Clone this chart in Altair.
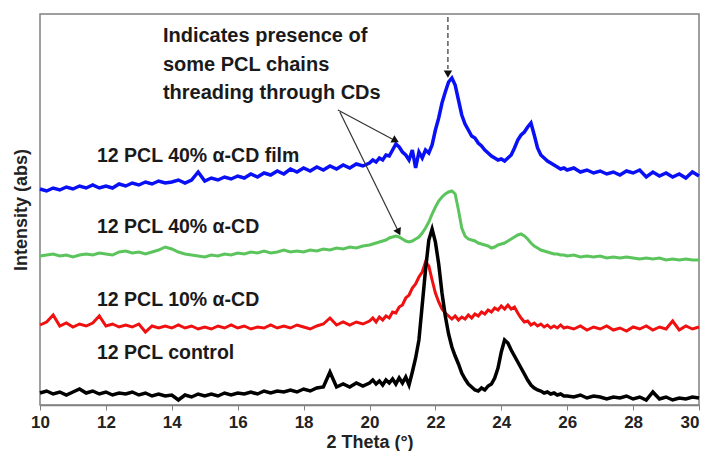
import altair as alt
import pandas as pd

# 2-theta sampling grid (degrees)
two_theta = ([round(10 + 0.2 * i, 1) for i in range(50)]
             + [round(20 + 0.1 * i, 1) for i in range(60)]
             + [round(26 + 0.2 * i, 1) for i in range(21)])

# intensities (arbitrary units, stacked as in the figure)
control = [12, 14, 11, 13, 10, 13, 16, 12, 14, 11, 13, 10, 12, 11, 13, 10, 12, 9, 11, 9,
           10, 5, 10, 8, 11, 9, 11, 9, 12, 10, 12, 11, 13, 11, 14, 12, 14, 13, 15, 13,
           16, 14, 17, 18, 33, 18, 21, 18, 22, 19,
           22, 25, 21, 24, 20, 25, 22, 26, 21, 27, 22, 28, 20, 33, 47, 65, 100, 135, 165, 176,
           163, 141, 112, 89, 71, 58, 49, 41, 32, 26, 21, 18, 15, 14, 17, 15, 19, 21, 27, 37,
           53, 65, 62, 55, 49, 43, 37, 31, 25, 20, 17, 15, 14, 12, 13, 11, 12, 10, 11, 9,
           9, 8, 10, 7, 9, 8, 6, 8, 7, 9, 6, 8, 5, 13, 6, 8, 5, 7, 6, 8, 7]
cd10 = [80, 83, 90, 79, 82, 78, 81, 79, 82, 89, 79, 81, 78, 80, 78, 81, 73, 79, 77, 79,
        77, 80, 77, 79, 76, 78, 76, 79, 77, 80, 77, 79, 76, 78, 77, 80, 77, 79, 77, 80,
        78, 76, 79, 81, 87, 80, 83, 80, 83, 81,
        84, 87, 83, 88, 85, 89, 87, 93, 92, 98, 100, 107, 110, 117, 121, 128, 133, 143, 139, 125,
        112, 103, 96, 92, 89, 86, 89, 85, 88, 86, 90, 87, 91, 89, 93, 91, 95, 93, 97, 95,
        99, 96, 100, 96, 98, 92, 87, 83, 84, 80, 82, 79, 81, 78, 80, 77, 79, 77, 80, 77,
        78, 76, 79, 75, 78, 76, 79, 75, 77, 74, 78, 76, 79, 75, 78, 76, 84, 75, 79, 76, 78]
cd40 = [149, 150, 151, 149, 150, 148, 150, 151, 150, 152, 151, 150, 153, 154, 152, 153, 151, 153, 155, 158,
        156, 153, 151, 150, 149, 148, 150, 149, 151, 150, 152, 151, 153, 152, 154, 152, 153, 155, 153, 154,
        153, 155, 154, 156, 155, 157, 156, 158, 157, 159,
        160, 161, 162, 163, 164, 165, 167, 168, 169, 168, 166, 164, 163, 164, 166, 168, 172, 177, 183, 191,
        198, 204, 208, 211, 213, 214, 211, 195, 177, 169, 166, 165, 164, 162, 161, 160, 159, 157, 158, 160,
        161, 162, 164, 166, 168, 170, 171, 169, 166, 162, 159, 157, 155, 154, 153, 152, 151, 151, 150, 150,
        149, 150, 148, 149, 148, 149, 147, 148, 147, 148, 147, 146, 147, 146, 147, 145, 146, 145, 146, 145, 145]
film = [216, 214, 217, 215, 218, 216, 219, 217, 220, 217, 219, 217, 221, 219, 222, 220, 223, 221, 224, 222,
        223, 225, 222, 225, 233, 224, 227, 225, 228, 226, 229, 227, 231, 228, 232, 230, 234, 231, 236, 233,
        237, 234, 238, 235, 239, 236, 240, 237, 241, 239,
        242, 245, 243, 247, 245, 250, 249, 255, 261, 258, 253, 250, 245, 255, 237, 253, 247, 255, 252, 260,
        275, 287, 302, 313, 323, 327, 320, 305, 290, 281, 275, 269, 267, 262, 259, 255, 252, 249, 247, 245,
        246, 244, 247, 250, 257, 265, 270, 273, 278, 282, 270, 257, 250, 247, 244, 242, 240, 238, 236, 237,
        235, 237, 233, 235, 232, 234, 231, 233, 230, 234, 232, 235, 228, 233, 229, 232, 228, 231, 227, 233, 229]

series_names = ["film", "cd40", "cd10", "control"]
series_values = [film, cd40, cd10, control]
series_colors = ["#0a10f5", "#5cc45c", "#f01010", "#000000"]
series_widths = [3.5, 3, 3, 3.5]

# x tick values
tick_values = [10, 12, 14, 16, 18, 20, 22, 24, 26, 28, 30]

# curve labels
label_text = ["12 PCL 40% α-CD film", "12 PCL 40% α-CD", "12 PCL 10% α-CD", "12 PCL control"]
label_x = [11.73, 11.73, 11.73, 11.73]
label_y = [249, 178, 105, 52]

# annotation text
note_text = ["Indicates presence of", "some PCL chains", "threading through CDs"]
note_x = [13.73, 13.73, 13.73]
note_y = [369, 340, 312]

# arrows (shafts)
arrow_x = [19.04, 19.10]
arrow_y = [295, 293]
arrow_x2 = [20.80, 20.90]
arrow_y2 = [264, 172]
dash_x = [22.38]
dash_y = [388]
dash_y2 = [336]
# arrow heads
head_x = [20.76, 20.87, 22.38]
head_y = [265, 174, 332]
head_angle = [118, 154, 180]

XS = alt.Scale(domain=[10, 30], nice=False, zero=False)
YS = alt.Scale(domain=[0, 391], nice=False, zero=False)

text_font = "Liberation Sans, Arial, sans-serif"

layers = []
for name, vals, col, w in zip(series_names, series_values, series_colors, series_widths):
    df = pd.DataFrame({"theta": two_theta, "intensity": vals})
    enc_x = alt.X("theta:Q", scale=XS,
                  axis=alt.Axis(values=tick_values, title="2 Theta (°)",
                                labelFont=text_font, labelFontSize=17, labelFontWeight="bold",
                                labelColor="#222222", labelPadding=4,
                                labelAlign=alt.ExprRef(expr="datum.value >= 30 ? 'right' : 'center'"),
                                titleFont=text_font, titleFontSize=18, titleFontWeight="bold",
                                titleColor="#222222", titlePadding=3,
                                tickSize=5, tickColor="#808080", domainColor="#808080",
                                domainWidth=1.5, grid=False, labelFlush=False))
    enc_y = alt.Y("intensity:Q", scale=YS,
                  axis=alt.Axis(labels=False, ticks=False, domain=False, grid=False,
                                title="Intensity (abs)", titleFont=text_font,
                                titleFontSize=18, titleFontWeight="bold",
                                titleColor="#222222", titlePadding=10))
    layers.append(alt.Chart(df).mark_line(color=col, strokeWidth=w, interpolate="linear")
                  .encode(x=enc_x, y=enc_y))

lab_df = pd.DataFrame({"x": label_x, "y": label_y, "t": label_text})
layers.append(alt.Chart(lab_df).mark_text(align="left", baseline="middle", font=text_font,
                                          fontSize=19.5, fontWeight="bold", color="#1a1a1a")
              .encode(x=alt.X("x:Q", scale=XS), y=alt.Y("y:Q", scale=YS), text="t:N"))

note_df = pd.DataFrame({"x": note_x, "y": note_y, "t": note_text})
layers.append(alt.Chart(note_df).mark_text(align="left", baseline="middle", font=text_font,
                                           fontSize=20, fontWeight="bold", color="#1a1a1a")
              .encode(x=alt.X("x:Q", scale=XS), y=alt.Y("y:Q", scale=YS), text="t:N"))

arr_df = pd.DataFrame({"x": arrow_x, "y": arrow_y, "x2": arrow_x2, "y2": arrow_y2})
layers.append(alt.Chart(arr_df).mark_rule(color="#333333", strokeWidth=1.2)
              .encode(x=alt.X("x:Q", scale=XS), y=alt.Y("y:Q", scale=YS), x2="x2:Q", y2="y2:Q"))

dash_df = pd.DataFrame({"x": dash_x, "y": dash_y, "y2": dash_y2})
layers.append(alt.Chart(dash_df).mark_rule(color="#333333", strokeWidth=1.2, strokeDash=[5, 3])
              .encode(x=alt.X("x:Q", scale=XS), y=alt.Y("y:Q", scale=YS), y2="y2:Q"))

head_df = pd.DataFrame({"x": head_x, "y": head_y, "a": head_angle})
layers.append(alt.Chart(head_df).mark_point(shape="triangle", filled=True, color="#111111",
                                            size=70, opacity=1)
              .encode(x=alt.X("x:Q", scale=XS), y=alt.Y("y:Q", scale=YS),
                      angle=alt.Angle("a:Q", scale=None)))

chart = alt.layer(*layers).properties(
    width=659, height=391,
    autosize=alt.AutoSizeParams(type="none"),
    padding={"left": 32, "top": 6, "right": 1, "bottom": 46},
).configure_view(stroke="#808080", strokeWidth=1.5)

chart.save("out.html", embed_options={"renderer": "svg", "actions": False})
